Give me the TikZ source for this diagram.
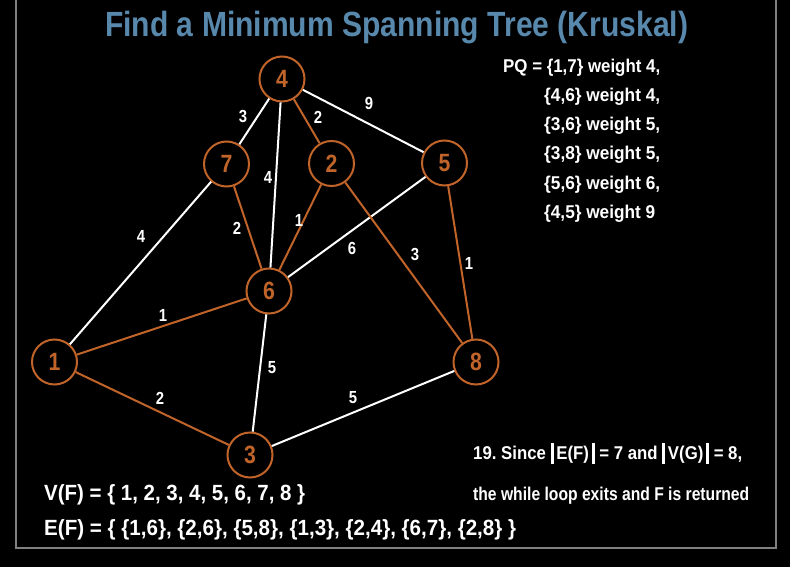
\documentclass[tikz,border=0pt]{standalone}
\usepackage{fontspec}
\setmainfont{Liberation Sans}
\usepackage{graphicx}
\frenchspacing
\definecolor{mstorange}{RGB}{192,100,42}
\definecolor{titleblue}{RGB}{88,136,172}
\definecolor{framegray}{RGB}{128,128,128}
\newcommand\fitw[2]{\resizebox{#1}{\height}{#2}}
\newcommand\narrow[1]{\scalebox{0.85}[1]{#1}}
\newcommand\vbar{\rule[-5pt]{3.2pt}{21.5pt}}
\tikzset{
  vert/.style={circle, draw=mstorange, line width=2pt, minimum size=45pt, inner sep=0pt,
    text=mstorange, font=\bfseries\fontsize{25}{25}\selectfont},
  tree/.style={draw=mstorange, line width=2pt},
  nontree/.style={draw=white, line width=2pt},
  wlab/.style={text=white, font=\bfseries\fontsize{17.5}{18}\selectfont, inner sep=0pt},
  txt/.style={text=white, font=\bfseries\fontsize{18.5}{19}\selectfont, inner sep=0pt, anchor=base west},
  bigtxt/.style={text=white, font=\bfseries\fontsize{22}{23}\selectfont, inner sep=0pt, anchor=base west}
}
\begin{document}
\begin{tikzpicture}[x=1pt,y=-1pt]
\useasboundingbox (0,0) rectangle (798,567);
\fill[black] (0,0) rectangle (798,567);
\fill[white] (790,0) rectangle (798,567);
\draw[framegray, line width=2pt] (16,0) -- (16,548) -- (776,548) -- (776,0);

% title
\node[anchor=base west, inner sep=0pt, text=titleblue, font=\bfseries\fontsize{35}{36}\selectfont] (title) at (105,36.5)
  {\fitw{583pt}{Find a Minimum Spanning Tree (Kruskal)}};

% vertices
\node[vert] (n4) at (282,79) {\narrow{4}};
\node[vert] (n7) at (226.5,164) {\narrow{7}};
\node[vert] (n2) at (331.5,163.5) {\narrow{2}};
\node[vert] (n5) at (444.5,163) {\narrow{5}};
\node[vert] (n6) at (269,291) {\narrow{6}};
\node[vert] (n1) at (54.5,362) {\narrow{1}};
\node[vert] (n8) at (476,362) {\narrow{8}};
\node[vert] (n3) at (250,455) {\narrow{3}};

% non-tree edges
\draw[nontree] (n4) -- (n7);
\draw[nontree] (n4) -- (n6);
\draw[nontree] (n4) -- (n5);
\draw[nontree] (n1) -- (n7);
\draw[nontree] (n6) -- (n5);
\draw[nontree] (n6) -- (n3);
\draw[nontree] (n3) -- (n8);
% tree edges
\draw[tree] (n1) -- (n6);
\draw[tree] (n2) -- (n6);
\draw[tree] (n5) -- (n8);
\draw[tree] (n1) -- (n3);
\draw[tree] (n2) -- (n4);
\draw[tree] (n6) -- (n7);
\draw[tree] (n2) -- (n8);

% edge weights
\node[wlab] (w47) at (243,116) {\narrow{3}};
\node[wlab] (w42) at (318,117) {\narrow{2}};
\node[wlab] (w45) at (369,103) {\narrow{9}};
\node[wlab] (w46) at (268,177) {\narrow{4}};
\node[wlab] (w67) at (237,228) {\narrow{2}};
\node[wlab] (w62) at (299,220) {\narrow{1}};
\node[wlab] (w17) at (141,236) {\narrow{4}};
\node[wlab] (w65) at (352,248) {\narrow{6}};
\node[wlab] (w28) at (415,254) {\narrow{3}};
\node[wlab] (w58) at (469,263) {\narrow{1}};
\node[wlab] (w16) at (163,315) {\narrow{1}};
\node[wlab] (w63) at (272,368) {\narrow{5}};
\node[wlab] (w13) at (160,398) {\narrow{2}};
\node[wlab] (w38) at (353,398) {\narrow{5}};

% priority queue
\node[txt] (pq1) at (503,72.5) {\fitw{157pt}{PQ = \{1,7\} weight 4,}};
\node[txt] (pq2) at (544,101.5) {\fitw{116pt}{\{4,6\} weight 4,}};
\node[txt] (pq3) at (544,130.5) {\fitw{116pt}{\{3,6\} weight 5,}};
\node[txt] (pq4) at (544,160) {\fitw{116pt}{\{3,8\} weight 5,}};
\node[txt] (pq5) at (544,189.5) {\fitw{116pt}{\{5,6\} weight 6,}};
\node[txt] (pq6) at (544,218.5) {\fitw{111pt}{\{4,5\} weight 9}};

% explanation
\node[txt] (since) at (473,459) {\fitw{269pt}{19. Since \vbar\,E(F)\,\vbar{} = 7 and \vbar\,V(G)\,\vbar{} = 8,}};
\node[txt] (loop) at (473,500) {\fitw{276pt}{the while loop exits and F is returned}};

% result sets
\node[bigtxt] (vf) at (44,500) {\fitw{261pt}{V(F) = \{ 1, 2, 3, 4, 5, 6, 7, 8 \}}};
\node[bigtxt] (ef) at (44,535) {\fitw{472pt}{E(F) = \{ \{1,6\}, \{2,6\}, \{5,8\}, \{1,3\}, \{2,4\}, \{6,7\}, \{2,8\} \}}};
\end{tikzpicture}
\end{document}
